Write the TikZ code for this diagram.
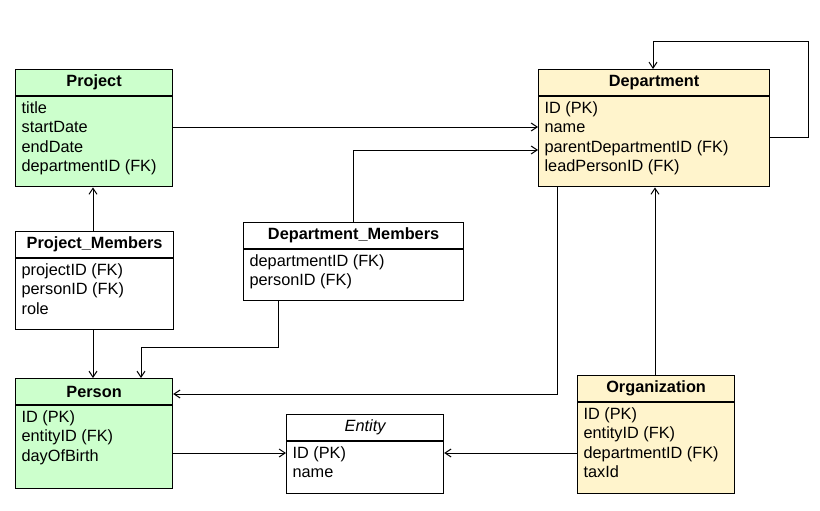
\documentclass[tikz,border=0pt]{standalone}
\usepackage{fontspec}
\setmainfont{Liberation Sans}
\usetikzlibrary{arrows.meta,positioning}
\definecolor{greenfill}{HTML}{CCFFCC}
\definecolor{yellowfill}{HTML}{FFF4CC}
\newcommand{\boxlines}[3]{\parbox[t][#1][t]{#2}{\raggedright\strut #3}}
\tikzset{
  hdr/.style={draw, line width=1.2pt, anchor=north west, minimum height=26pt, inner sep=0pt,
    font=\fontsize{16.3}{19.5}\selectfont\bfseries},
  body/.style={draw, line width=1.2pt, anchor=north west, inner xsep=6pt, inner ysep=3pt,
    font=\fontsize{16.3}{19.5}\selectfont},
  link/.style={line width=1pt, -{Straight Barb[length=6pt,width=8pt]}},
}
\begin{document}
\begin{tikzpicture}[x=1pt,y=-1pt]
  \useasboundingbox[fill=white] (0,0) rectangle (820,511);

  % Project
  \node[hdr, fill=greenfill, minimum width=157pt] (projH) at (15,69) {Project};
  \node[body, fill=greenfill] (projB) at (projH.south west)
    {\boxlines{84pt}{145pt}{title\\startDate\\endDate\\departmentID (FK)}};

  % Department
  \node[hdr, fill=yellowfill, minimum width=231pt] (deptH) at (538,69) {Department};
  \node[body, fill=yellowfill] (deptB) at (deptH.south west)
    {\boxlines{84pt}{219pt}{ID (PK)\\name\\parentDepartmentID (FK)\\leadPersonID (FK)}};

  % Project_Members
  \node[hdr, fill=white, minimum width=158pt] (pmH) at (15,231) {Project\_Members};
  \node[body, fill=white] (pmB) at (pmH.south west)
    {\boxlines{65pt}{146pt}{projectID (FK)\\personID (FK)\\role}};

  % Department_Members
  \node[hdr, fill=white, minimum width=220pt] (dmH) at (243,222) {Department\_Members};
  \node[body, fill=white] (dmB) at (dmH.south west)
    {\boxlines{45pt}{208pt}{departmentID (FK)\\personID (FK)}};

  % Person
  \node[hdr, fill=greenfill, minimum width=157pt] (persH) at (15,378) {Person};
  \node[body, fill=greenfill] (persB) at (persH.south west)
    {\boxlines{77pt}{145pt}{ID (PK)\\entityID (FK)\\dayOfBirth}};

  % Entity
  \node[hdr, fill=white, minimum width=157pt, font=\fontsize{16.3}{19.5}\selectfont\itshape] (entH) at (286,414) {Entity};
  \node[body, fill=white] (entB) at (entH.south west)
    {\boxlines{46pt}{145pt}{ID (PK)\\name}};

  % Organization
  \node[hdr, fill=yellowfill, minimum width=157pt] (orgH) at (577,375) {Organization};
  \node[body, fill=yellowfill] (orgB) at (orgH.south west)
    {\boxlines{85pt}{145pt}{ID (PK)\\entityID (FK)\\departmentID (FK)\\taxId}};

  % Connectors
  \draw[link] (projB.east |- 0,127) -- (deptB.west |- 0,127);
  \draw[link] (dmH.north -| 353,0) |- (deptB.west |- 0,150);
  \draw[link] (deptB.east |- 0,137) -- (808,137) -- (808,42) -| (deptH.north -| 653,0);
  \draw[link] (pmH.north -| 93,0) -- (projB.south -| 93,0);
  \draw[link] (pmB.south -| 93,0) -- (persH.north -| 93,0);
  \draw[link] (dmB.south -| 278,0) -- (278,347) -| (persH.north -| 141,0);
  \draw[link] (deptB.south -| 557,0) -- (557,394) -- (persH.east |- 0,394);
  \draw[link] (orgH.north -| 655,0) -- (deptB.south -| 655,0);
  \draw[link] (persB.east |- 0,453) -- (entB.west |- 0,453);
  \draw[link] (orgB.west |- 0,453) -- (entB.east |- 0,453);
\end{tikzpicture}
\end{document}
